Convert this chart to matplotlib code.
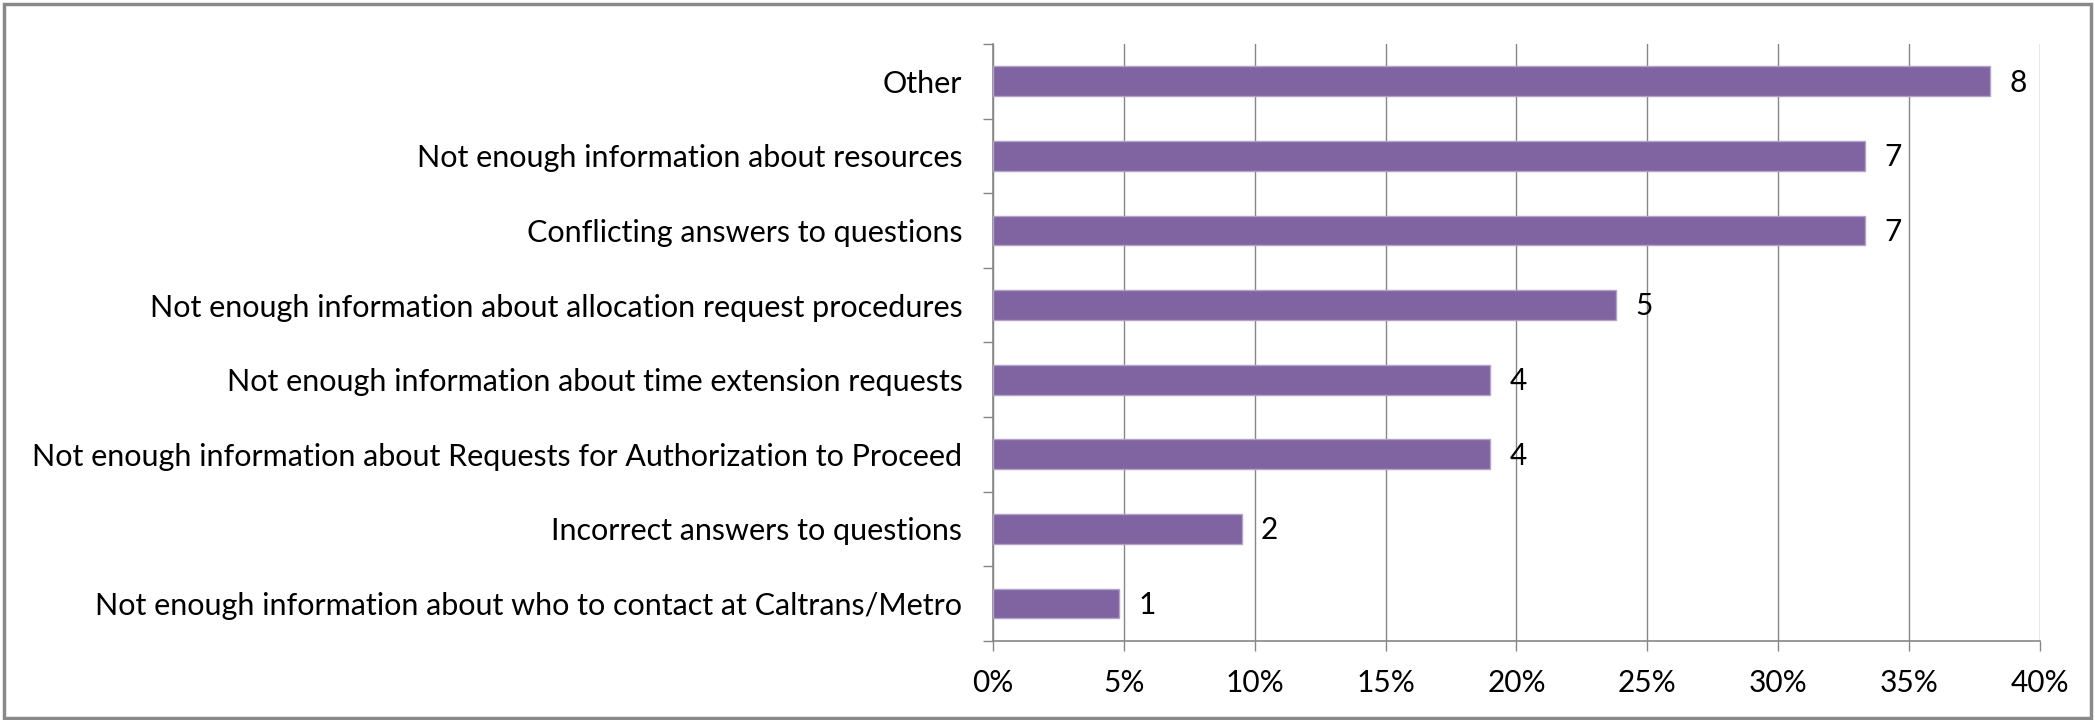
import matplotlib.pyplot as plt
from matplotlib.patches import Rectangle
from matplotlib.ticker import FuncFormatter

categories = [
    'Other',
    'Not enough information about resources',
    'Conflicting answers to questions',
    'Not enough information about allocation request procedures',
    'Not enough information about time extension requests',
    'Not enough information about Requests for Authorization to Proceed',
    'Incorrect answers to questions',
    'Not enough information about who to contact at Caltrans/Metro',
]
percent = [38.1, 33.3, 33.3, 23.8, 19.0, 19.0, 9.5, 4.8]
counts = [8, 7, 7, 5, 4, 4, 2, 1]
x_ticks = [0, 5, 10, 15, 20, 25, 30, 35, 40]

plt.rcParams['font.family'] = ['Lato', 'DejaVu Sans']

fig = plt.figure(figsize=(20.95, 7.2), dpi=100)
ax = fig.add_axes([0.474, 0.110, 0.4997, 0.829])

ypos = list(range(len(categories)))
ax.barh(ypos, percent, height=0.4, color='#8064A2', edgecolor='#B3A2C7', linewidth=1, zorder=3)

for y, p, c in zip(ypos, percent, counts):
    ax.annotate(str(c), (p, y), xytext=(14, -1), textcoords='offset points',
                ha='left', va='center', fontsize=21.5, color='black')

ax.set_ylim(len(categories) - 0.5, -0.5)
ax.set_xlim(0, 40)

ax.set_xticks(x_ticks)
ax.xaxis.set_major_formatter(FuncFormatter(lambda v, pos: f'{v:.0f}%'))
ax.tick_params(axis='x', direction='out', length=7, width=1, color='#868686',
               labelsize=21.5, pad=13)
ax.grid(axis='x', color='#868686', linewidth=1, zorder=0)

# category labels, with ticks drawn between categories like Excel
ax.set_yticks(ypos)
ax.set_yticklabels(categories, fontsize=22)
ax.tick_params(axis='y', length=0, pad=22)
ax.set_yticks([y + 0.5 for y in range(-1, len(categories))], minor=True)
ax.tick_params(axis='y', which='minor', direction='out', length=7, width=1, color='#868686')

for side in ['top', 'right']:
    ax.spines[side].set_visible(False)
for side in ['left', 'bottom']:
    ax.spines[side].set_color('#868686')
    ax.spines[side].set_linewidth(1.2)

# grey frame round the chart
fig.patches.append(Rectangle((0.002, 0.003), 0.996, 0.992, transform=fig.transFigure,
                             fill=False, edgecolor='#898989', linewidth=2.5))

plt.savefig('out.png', dpi=100)
